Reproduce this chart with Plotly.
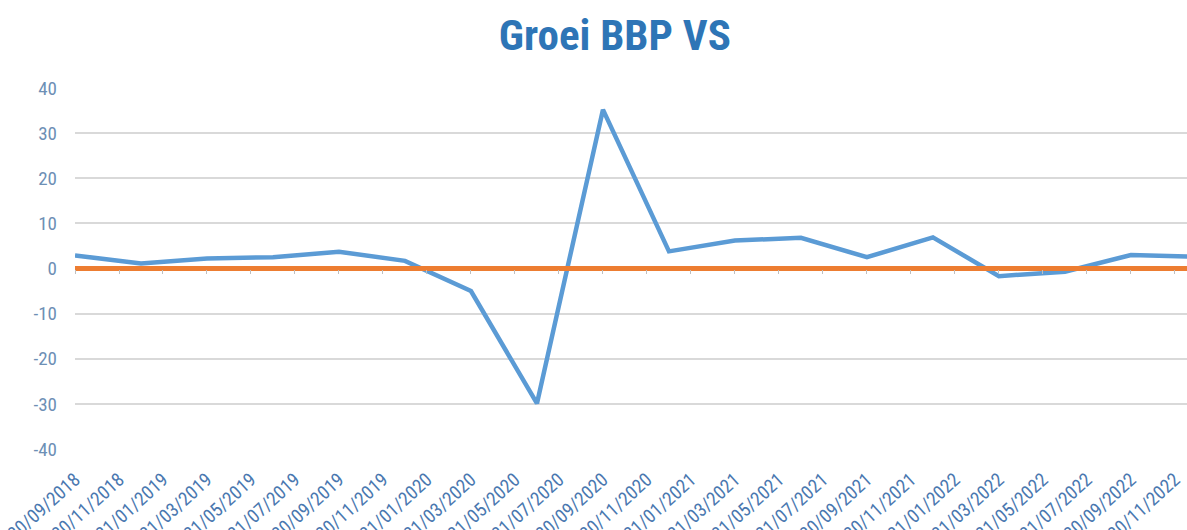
import pandas as pd
import plotly.graph_objects as go

# ---- data ----
dates = ["2018-09-30", "2018-12-31", "2019-03-31", "2019-06-30", "2019-09-30", "2019-12-31",
         "2020-03-31", "2020-06-30", "2020-09-30", "2020-12-31", "2021-03-31", "2021-06-30",
         "2021-09-30", "2021-12-31", "2022-03-31", "2022-06-30", "2022-09-30", "2022-12-31"]
gdp_growth = [2.9, 1.1, 2.2, 2.5, 3.7, 1.7, -5.0, -29.9, 35.2, 3.8, 6.2, 6.8,
              2.5, 6.9, -1.7, -0.7, 3.0, 2.6]
reference_line = [0] * len(dates)
tick_dates = ["2018-09-30", "2018-11-30", "2019-01-31", "2019-03-31", "2019-05-31", "2019-07-31",
              "2019-09-30", "2019-11-30", "2020-01-31", "2020-03-31", "2020-05-31", "2020-07-31",
              "2020-09-30", "2020-11-30", "2021-01-31", "2021-03-31", "2021-05-31", "2021-07-31",
              "2021-09-30", "2021-11-30", "2022-01-31", "2022-03-31", "2022-05-31", "2022-07-31",
              "2022-09-30", "2022-11-30"]
y_ticks = [-40, -30, -20, -10, 0, 10, 20, 30, 40]
title_text = "Groei BBP VS"

# month-based axis (Excel date axis with base unit = months)
def month_index(d, base):
    d = pd.Timestamp(d)
    return (d.year - base.year) * 12 + (d.month - base.month)

base = pd.Timestamp(dates[0])
x_vals = [month_index(d, base) for d in dates]
tick_vals = [month_index(d, base) for d in tick_dates]
tick_text = [pd.Timestamp(d).strftime("%d/%m/%Y") for d in tick_dates]
y_tick_text = [str(v) for v in y_ticks]  # plain hyphen minus, like the reference

FONT = "Liberation Sans Narrow, Roboto Condensed, DejaVu Sans Condensed, Arial Narrow, sans-serif"

fig = go.Figure()
# invisible trace that activates xaxis2 (small tick marks on the zero line)
fig.add_trace(go.Scatter(x=[tick_vals[0]], y=[0], xaxis="x2", mode="markers",
                         marker=dict(opacity=0), showlegend=False, hoverinfo="skip"))
fig.add_trace(go.Scatter(x=x_vals, y=gdp_growth, mode="lines",
                         line=dict(color="#5b9bd5", width=4.5), showlegend=False))
fig.add_trace(go.Scatter(x=x_vals, y=reference_line, mode="lines",
                         line=dict(color="#ed7d31", width=5), showlegend=False))

fig.update_layout(
    width=1187, height=530,
    margin=dict(l=75, r=0, t=88, b=81, autoexpand=False),
    paper_bgcolor="white", plot_bgcolor="white",
    title=dict(text=title_text, x=0.518, xanchor="center", y=0.935, yanchor="middle",
               font=dict(family=FONT, size=43, color="#2e75b6", weight="bold")),
    xaxis=dict(range=[0, 50.55], tickvals=tick_vals, ticktext=tick_text,
               tickangle=-42, showgrid=False, zeroline=False, showline=False,
               ticks="", ticklabelstandoff=15, ticklabeloverflow="allow",
               tickfont=dict(family=FONT, size=19, color="#4a78b0")),
    xaxis2=dict(range=[0, 50.55], tickvals=tick_vals, overlaying="x", anchor="free",
                position=0.5, side="bottom", showgrid=False, zeroline=False, showline=False,
                ticks="outside", ticklen=4, tickcolor="#bfbfbf", tickwidth=1,
                showticklabels=False),
    yaxis=dict(range=[-40, 40], tickvals=y_ticks, ticktext=y_tick_text,
               showgrid=True, gridcolor="#d9d9d9",
               gridwidth=1.6, zeroline=False, showline=False, ticks="",
               ticklabelstandoff=17,
               tickfont=dict(family=FONT, size=19, color="#6d8fb5")),
)

fig.write_html("out.html", config={"displayModeBar": False},
               post_script="document.body.style.margin='0';document.body.style.padding='0';")
